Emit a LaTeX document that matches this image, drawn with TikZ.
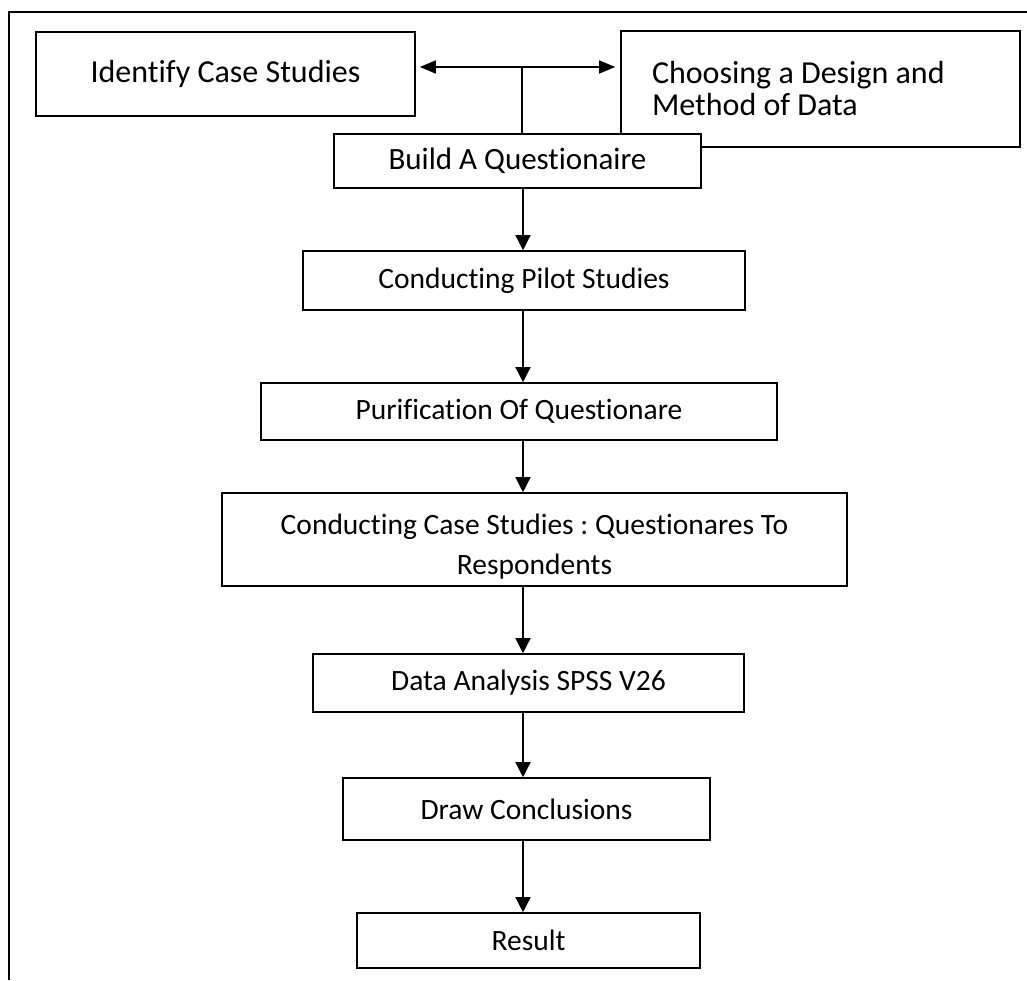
\documentclass[tikz,border=0pt]{standalone}
\usepackage{fontspec}
\setmainfont{Carlito}[Ligatures={NoCommon,NoRequired,NoContextual},RawFeature={-liga;-clig;-calt;-dlig}]
\usetikzlibrary{arrows.meta,positioning,calc}
\frenchspacing

\begin{document}
\begin{tikzpicture}[x=1pt,y=-1pt,>={Triangle[length=15pt,width=15pt]},
  flowbox/.style={draw,line width=1.6pt,fill=white,inner sep=0pt,align=center,
    font=\fontsize{29.5}{40}\selectfont},
  topbox/.style={flowbox,font=\fontsize{32}{32}\selectfont},
  flow/.style={->,line width=1.4pt}]
\useasboundingbox (0,0) rectangle (1027,980);
% ---------- outer frame (cut at right and bottom) ----------
\draw[line width=2.6pt] (9,980) -- (9,12) -- (1027,12);
% ---------- top row ----------
\node[topbox,minimum width=379pt,minimum height=84pt] (identify) at (225.5,74) {Identify Case Studies};
\node[topbox,align=flush left,text width=337pt,inner xsep=31pt,minimum height=116pt] (choose) at (820.5,89)
  {Choosing a Design and\\Method of Data};
\coordinate (junction) at (522,67);
\coordinate (spine) at (523,0);
% ---------- main column ----------
\node[flowbox,font=\fontsize{31}{39}\selectfont,minimum width=367pt,minimum height=54pt] (build) at (517.5,161) {Build A Questionaire};
\node[flowbox,minimum width=442pt,minimum height=59pt] (pilot) at (524,280.5) {Conducting Pilot Studies};
\node[flowbox,minimum width=516pt,minimum height=57pt] (purify) at (519,411.5) {Purification Of Questionare};
\node[flowbox,minimum width=625pt,minimum height=93pt] (survey) at (534.5,539.5)
  {\rule{0pt}{35pt}Conducting Case Studies : Questionares To\\Respondents};
\node[flowbox,minimum width=431pt,minimum height=58pt] (analysis) at (528.5,683) {Data Analysis SPSS V26};
\node[flowbox,minimum width=367pt,minimum height=62pt] (conclude) at (526.5,809) {Draw Conclusions};
\node[flowbox,minimum width=343pt,minimum height=55pt] (result) at (528.5,940.5) {Result};
% ---------- connectors ----------
\draw[line width=1.4pt,<->,>={Triangle[length=16pt,width=13pt]},shorten <=4pt,shorten >=5pt]
  (identify.east |- junction) -- (choose.west |- junction);
\draw[line width=1.4pt] (junction) -- (build.north -| junction);
\draw[flow] (build.south -| spine) -- (pilot.north -| spine);
\draw[flow] (pilot.south -| spine) -- (purify.north -| spine);
\draw[flow] (purify.south -| spine) -- (survey.north -| spine);
\draw[flow] (survey.south -| spine) -- (analysis.north -| spine);
\draw[flow] (analysis.south -| spine) -- (conclude.north -| spine);
\draw[flow] (conclude.south -| spine) -- (result.north -| spine);
\end{tikzpicture}
\end{document}
